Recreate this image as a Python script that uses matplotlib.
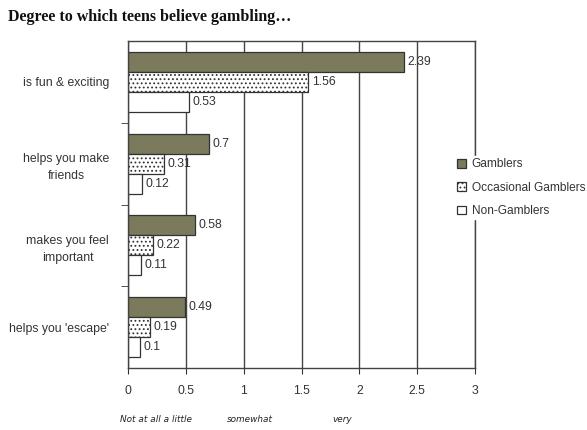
import matplotlib
matplotlib.use("Agg")
import matplotlib.pyplot as plt
import numpy as np

categories = ["is fun & exciting", "helps you make\nfriends", "makes you feel\nimportant", "helps you 'escape'"]
gamblers = [2.39, 0.7, 0.58, 0.49]
occasional = [1.56, 0.31, 0.22, 0.19]
non_gamblers = [0.53, 0.12, 0.11, 0.1]
series_names = ["Gamblers", "Occasional Gamblers", "Non-Gamblers"]
xticks = [0, 0.5, 1, 1.5, 2, 2.5, 3]
xtick_labels = ["0", "0.5", "1", "1.5", "2", "2.5", "3"]
scale_labels = ["Not at all a little", "somewhat", "very"]

plt.rcParams['font.family'] = ['Liberation Sans', 'DejaVu Sans']
plt.rcParams['hatch.linewidth'] = 0.8
plt.rcParams['hatch.color'] = '#333333'

fig = plt.figure(figsize=(5.87, 4.30), dpi=100)
ax = fig.add_axes([128/587, 1-368/430, (475-128)/587, (368-41)/430])

y = np.arange(len(categories))
h = 0.245
ec = '#333333'
b1 = ax.barh(y - h, gamblers, height=h, color='#7b7a5c', edgecolor=ec, linewidth=0.9, label=series_names[0])
b2 = ax.barh(y, occasional, height=h, color='white', edgecolor=ec, linewidth=0.9, hatch='....', label=series_names[1])
b3 = ax.barh(y + h, non_gamblers, height=h, color='white', edgecolor=ec, linewidth=0.9, label=series_names[2])

for bars, vals in [(b1, gamblers), (b2, occasional), (b3, non_gamblers)]:
    for rect, v in zip(bars, vals):
        ax.text(v + 0.03, rect.get_y() + rect.get_height()/2, f"{v:g}", va='center', ha='left',
                fontsize=8.8, color='#333333', zorder=5)

ax.set_xlim(0, 3)
ax.set_ylim(len(categories) - 0.5, -0.5)
ax.set_xticks(xticks)
ax.set_xticklabels(xtick_labels, fontsize=8.8, color='#333333')
ax.set_yticks(y)
ax.set_yticklabels(categories, fontsize=8.8, color='#333333', ha='right', multialignment='center',
                   linespacing=1.55)
ax.tick_params(axis='y', length=0, pad=13.5)
ax.set_yticks(np.arange(0.5, len(categories) - 0.5), minor=True)
ax.tick_params(axis='y', which='minor', length=5, direction='out', color='#333333')
ax.tick_params(axis='x', length=4, direction='out', color='#333333', pad=8)
ax.set_axisbelow(True)
ax.grid(axis='x', color='#444444', linewidth=1.0)
for s in ['left', 'bottom', 'top', 'right']:
    ax.spines[s].set_color('#444444')
    ax.spines[s].set_linewidth(1.0)

leg = fig.legend(handles=[b1, b2, b3], labels=series_names, loc='upper left',
                 bbox_to_anchor=(455/587, 1-156/430), frameon=True, fontsize=8.6,
                 handlelength=0.75, handleheight=0.75, handletextpad=0.45, labelspacing=0.95,
                 borderpad=0.2, borderaxespad=0)
leg.get_frame().set_edgecolor('white')
leg.get_frame().set_facecolor('white')
leg.get_frame().set_alpha(1)
for t in leg.get_texts():
    t.set_color('#333333')

fig.text(8/587, 1-17/430, "Degree to which teens believe gambling\u2026", fontsize=11.5,
         family=['Liberation Serif', 'DejaVu Serif'], weight='bold', va='center', ha='left', color='#111111')

for lbl, xp in zip(scale_labels, [120, 227, 332]):
    fig.text(xp/587, 1-419/430, lbl, fontsize=6.4, style='italic', family=['DejaVu Sans'],
             va='center', ha='left', color='#222222')

fig.savefig("out.png", dpi=100)
